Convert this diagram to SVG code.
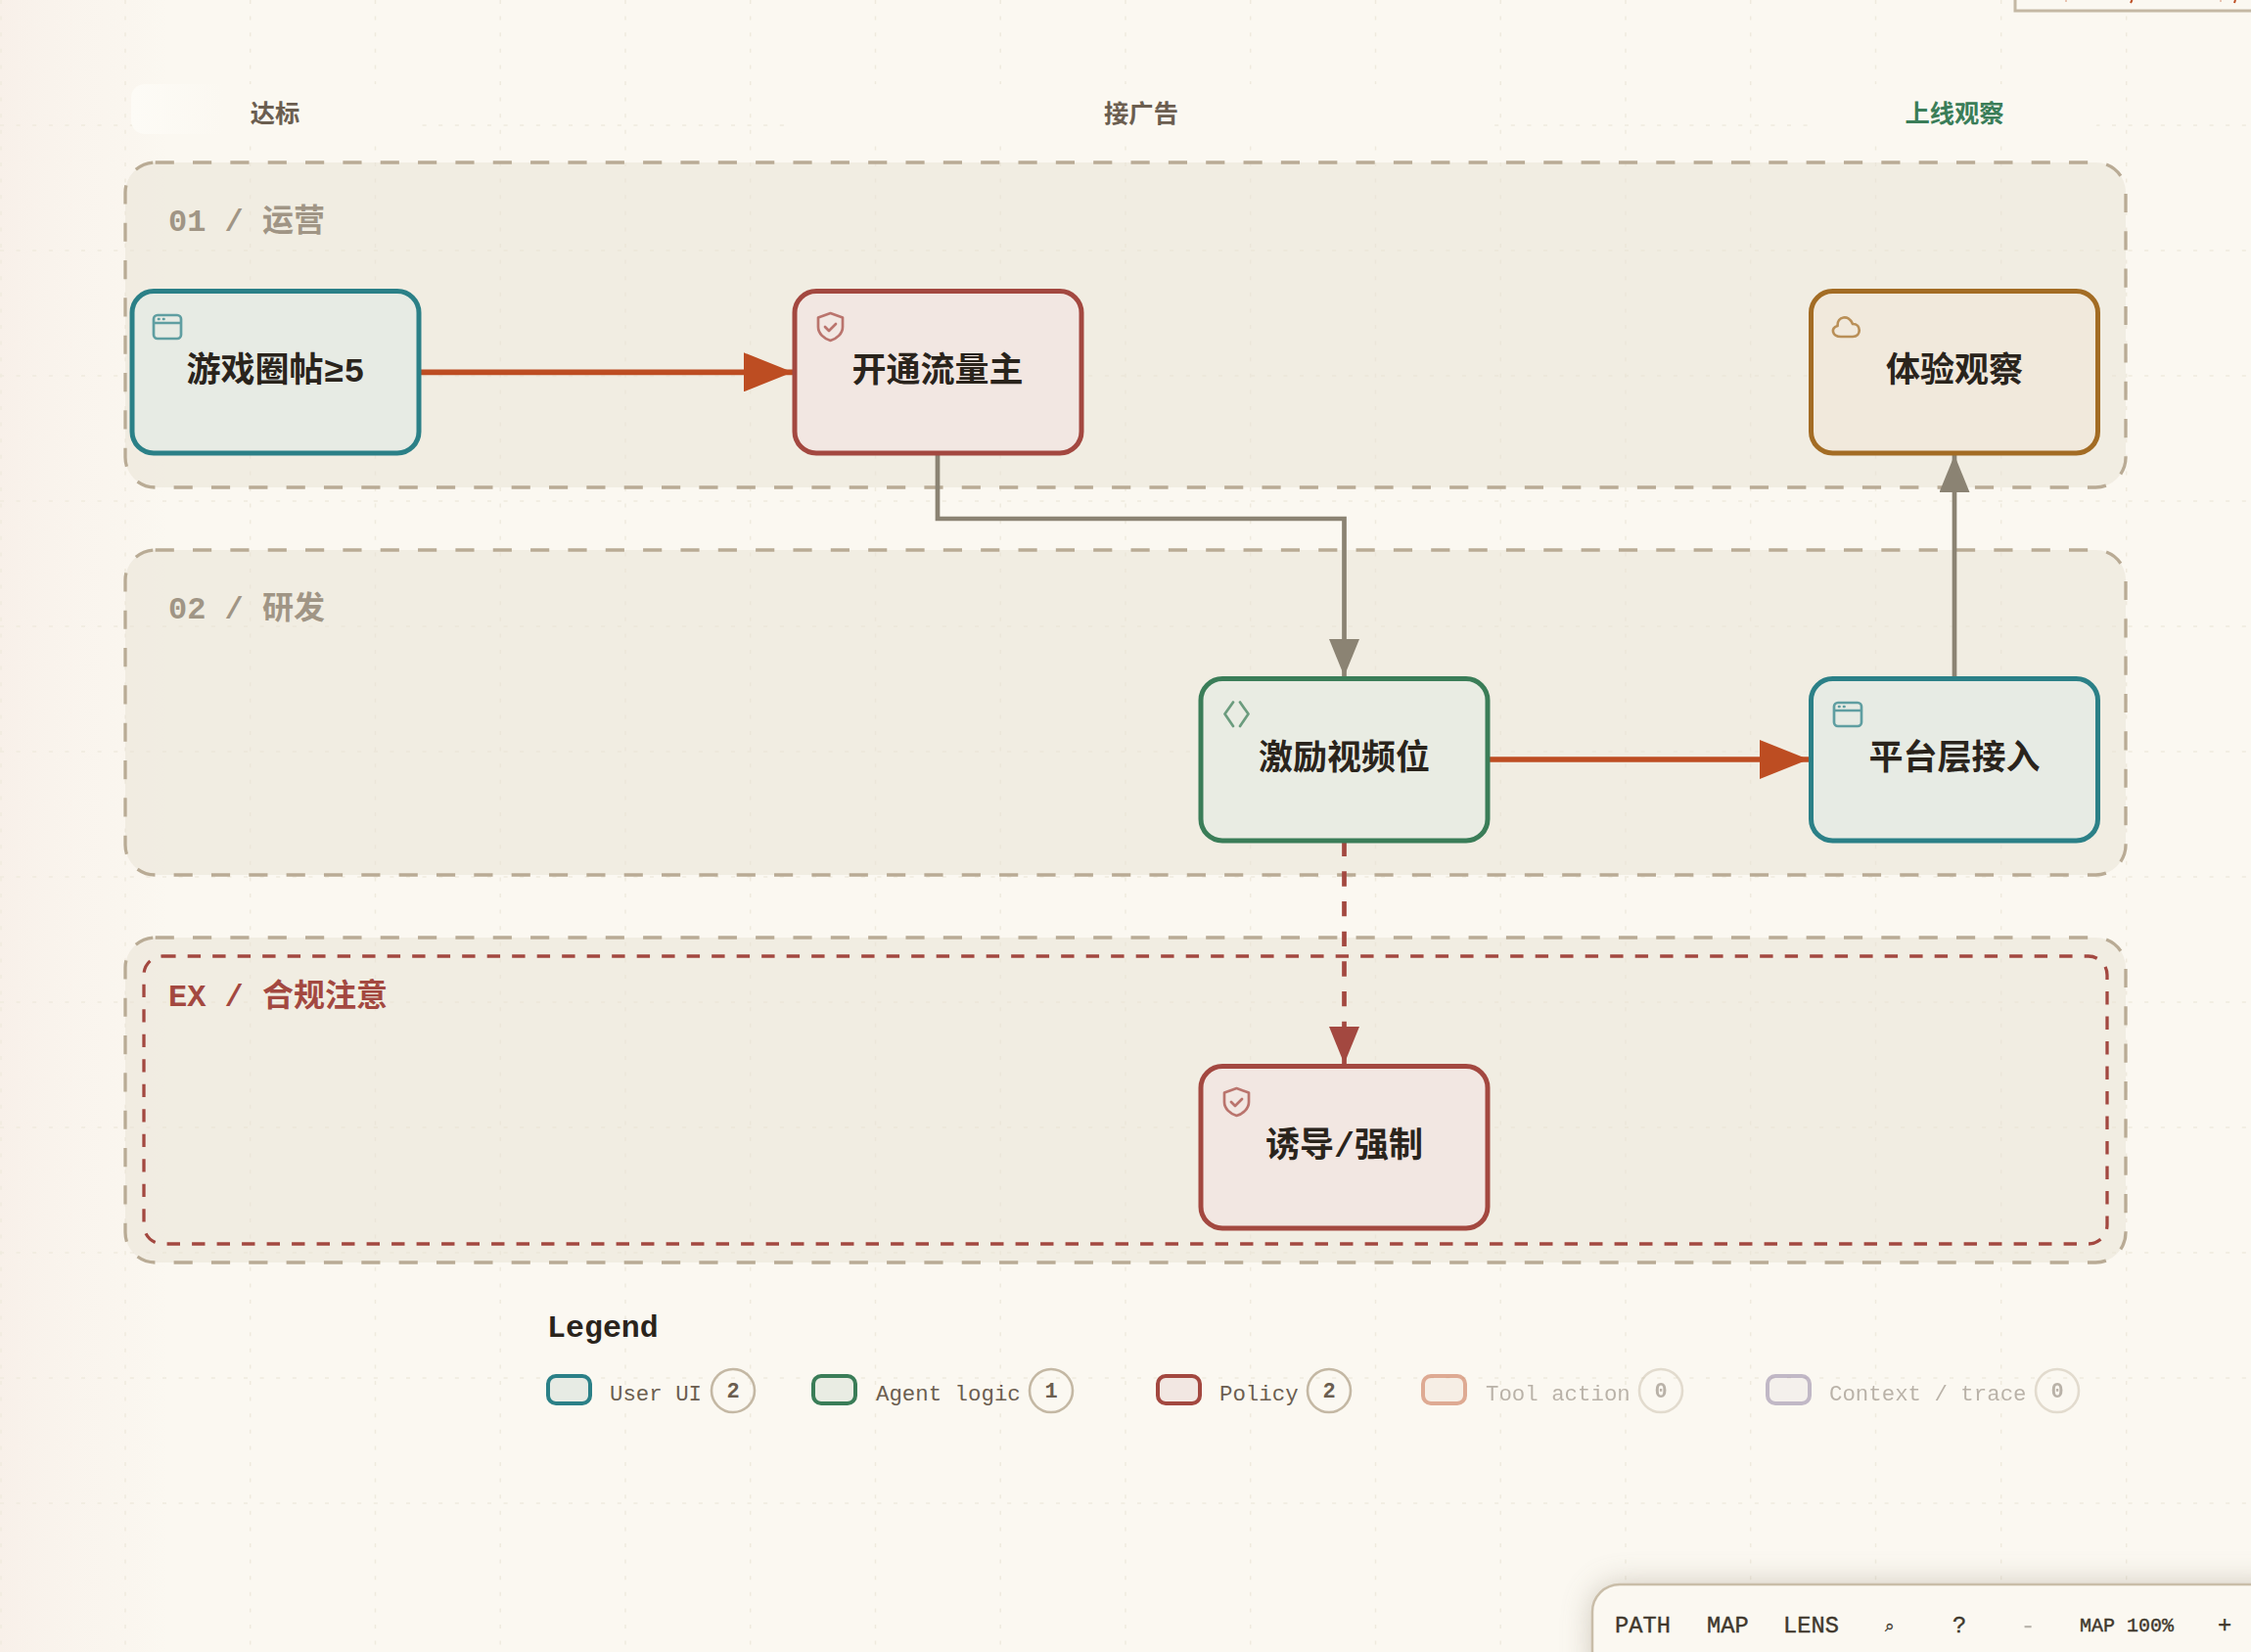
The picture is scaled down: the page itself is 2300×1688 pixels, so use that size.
<svg xmlns="http://www.w3.org/2000/svg" width="2300" height="1688" viewBox="0 0 2300 1688">
<style>
text{font-family:"Liberation Mono","Noto Sans CJK SC",monospace}
.cjk{font-family:"Noto Sans CJK SC",sans-serif}
.zone{fill:#e7e2d4;fill-opacity:.5;stroke:#b9ab95;stroke-width:3.3;stroke-dasharray:19.17 19.17}
.zl{font-size:32px;font-weight:700;fill:#a09585}
.hd{font-size:25.3px;font-weight:700;fill:#6b5e50;text-anchor:middle;font-family:"Noto Sans CJK SC",sans-serif}
.nb{stroke-width:5}
.nt{font-size:35px;font-weight:700;fill:#2a241c;text-anchor:middle;font-family:"Liberation Mono","Noto Sans CJK SC",monospace}
.ic{fill:none;stroke-width:2.7;stroke-linecap:round;stroke-linejoin:round;opacity:.72}
.lt{font-size:22.4px;fill:#6b5e50}
.lc{font-size:22px;font-weight:700;fill:#6b5e50;text-anchor:middle}
.cc{fill:none;stroke:#c4b8a4;stroke-width:2.6}
.sw{stroke-width:4}
.tb{font-size:23.7px;fill:#40382d;font-weight:400;stroke:#40382d;stroke-width:.4}
.teal{fill:#e7ebe4;stroke:#2b8087}.red{fill:#f2e7e2;stroke:#a34840}.green{fill:#e9ece3;stroke:#3a7d58}.amber{fill:#f1e9dc;stroke:#a36c24}
</style>
<defs>
<linearGradient id="bg" x1="0" x2="1" y1="0" y2="0"><stop offset="0" stop-color="#f8f0e9"/><stop offset=".5" stop-color="#f9f3ec" stop-opacity=".7"/><stop offset="1" stop-color="#f8f0e9" stop-opacity="0"/></linearGradient>
<linearGradient id="chip" x1="0" x2="1" y1="0" y2="0"><stop offset="0" stop-color="#fdfbf6"/><stop offset=".32" stop-color="#fbf8f1"/></linearGradient>
<filter id="sh" x="-10%" y="-60%" width="120%" height="220%"><feGaussianBlur stdDeviation="16"/></filter>
<marker id="ao" markerUnits="userSpaceOnUse" viewBox="0 0 50 40" markerWidth="50" markerHeight="40" refX="50" refY="20" orient="auto"><path d="M0 0L50 20L0 40Z" fill="#bd4d22"/></marker>
<marker id="ag" markerUnits="userSpaceOnUse" viewBox="0 0 38 31" markerWidth="38" markerHeight="31" refX="38" refY="15.5" orient="auto"><path d="M0 0L38 15.5L0 31Z" fill="#8b8373"/></marker>
<marker id="ar" markerUnits="userSpaceOnUse" viewBox="0 0 38 31" markerWidth="38" markerHeight="31" refX="38" refY="15.5" orient="auto"><path d="M0 0L38 15.5L0 31Z" fill="#a34840"/></marker>
<path id="win" d="M4 0H24A4 4 0 0 1 28 4V20A4 4 0 0 1 24 24H4A4 4 0 0 1 0 20V4A4 4 0 0 1 4 0ZM0 8H28M5 4H5.5M10 4H10.5"/>
<path id="shield" d="M12.5 0L25 4.5V14C25 21 19 26 12.5 28C6 26 0 21 0 14V4.5ZM7 14L11 18L18 11"/>
</defs>
<rect width="2300" height="1688" fill="#fbf8f1"/>
<rect width="170" height="1688" fill="url(#bg)"/>
<g id="grid" fill="none" stroke="#efeade" stroke-width="1.5" stroke-dasharray="4 12.6">
<path d="M1 0V1688M128 0V1688M255.700 0V1688M383.500 0V1688M511.200 0V1688M639 0V1688M766.700 0V1688M894.500 0V1688M1022.200 0V1688M1150 0V1688M1277.700 0V1688M1405.500 0V1688M1533.200 0V1688M1661 0V1688M1788.700 0V1688M1916.500 0V1688M2044.700 0V1688M2172.700 0V1688"/>
<path d="M0 128H2300M0 256H2300M0 384H2300M0 512H2300M0 640H2300M0 768H2300M0 896H2300M0 1024H2300M0 1152H2300M0 1280H2300M0 1408H2300M0 1536H2300"/>
</g>
<g id="headers">
<rect x="134" y="86" width="295" height="51" rx="14" fill="url(#chip)"/>
<rect x="811" y="86" width="710" height="51" rx="14" fill="#fbf8f1"/>
<rect x="1850" y="86" width="293" height="51" rx="14" fill="#fbf8f1"/>
<text class="hd" x="281" y="125">达标</text>
<text class="hd" x="1166" y="125">接广告</text>
<text class="hd" x="1997" y="125" style="fill:#3a7d58">上线观察</text>
</g>
<g id="zone-1"><rect class="zone" x="128" y="166" width="2044" height="332" rx="30.670"/><text class="zl" x="172" y="236">01 / <tspan class="cjk">运营</tspan></text></g>
<g id="zone-2"><rect class="zone" x="128" y="562" width="2044" height="332" rx="30.670"/><text class="zl" x="172" y="632">02 / <tspan class="cjk">研发</tspan></text></g>
<g id="zone-3"><rect class="zone" x="128" y="958" width="2044" height="332" rx="30.670"/>
<rect x="147" y="977" width="2006" height="294" rx="19.170" fill="none" stroke="#a34840" stroke-width="3.3" stroke-dasharray="13.4 12.1"/>
<text class="zl" x="172" y="1028" style="fill:#a34840">EX / <tspan class="cjk">合规注意</tspan></text></g>
<g id="connectors" fill="none">
<path d="M430 380.300H810" stroke="#bd4d22" stroke-width="5.7" marker-end="url(#ao)"/>
<path d="M958 465V530H1373.500V691" stroke="#8b8373" stroke-width="4.7" marker-end="url(#ag)"/>
<path d="M1522 776H1848" stroke="#bd4d22" stroke-width="5.7" marker-end="url(#ao)"/>
<path d="M1997 691V465" stroke="#8b8373" stroke-width="4.7" marker-end="url(#ag)"/>
<path d="M1373.500 859.700V1087" stroke="#a34840" stroke-width="4.7" stroke-dasharray="15.330 15.330" marker-end="url(#ar)"/>
</g>
<g id="node-1"><rect class="nb teal" x="135" y="297.500" width="293" height="165.500" rx="22"/><use href="#win" x="157" y="322" class="ic" stroke="#2b8087"/><text class="nt" x="281.500" y="390">游戏圈帖≥5</text></g>
<g id="node-2"><rect class="nb red" x="812" y="297.500" width="293" height="165.500" rx="22"/><use href="#shield" x="836" y="320" class="ic" stroke="#a34840"/><text class="nt" x="958" y="390">开通流量主</text></g>
<g id="node-3"><rect class="nb amber" x="1850.500" y="297.500" width="293" height="165.500" rx="22"/><path class="ic" stroke="#a36c24" d="M1881 344H1893C1902 344 1902 331 1893 331C1889 321 1877 323 1877.500 333C1870 335 1872 344 1881 344Z"/><text class="nt" x="1997" y="390">体验观察</text></g>
<g id="node-4"><rect class="nb green" x="1227" y="693.500" width="293" height="165.500" rx="22"/><path class="ic" stroke="#3a7d58" d="M1260 717.500L1251.500 729.500L1260 742M1267 717.500L1275.500 729.500L1267 742"/><text class="nt" x="1373.500" y="786">激励视频位</text></g>
<g id="node-5"><rect class="nb teal" x="1850.500" y="693.500" width="293" height="165.500" rx="22"/><use href="#win" x="1874" y="718" class="ic" stroke="#2b8087"/><text class="nt" x="1997" y="786">平台层接入</text></g>
<g id="node-6"><rect class="nb red" x="1227" y="1089.500" width="293" height="165.500" rx="22"/><use href="#shield" x="1251" y="1112" class="ic" stroke="#a34840"/><text class="nt" x="1373.500" y="1182">诱导/强制</text></g>
<g id="legend">
<text x="559" y="1366" font-size="31.600" font-weight="700" fill="#2a241c">Legend</text>
<g id="lg-ui"><rect class="sw teal" x="560" y="1406" width="43" height="28" rx="8"/><text class="lt" x="623" y="1431">User UI</text><circle class="cc" cx="749" cy="1421" r="22"/><text class="lc" x="749" y="1428">2</text></g>
<g id="lg-agent"><rect class="sw green" x="831" y="1406" width="43" height="28" rx="8"/><text class="lt" x="895" y="1431">Agent logic</text><circle class="cc" cx="1074" cy="1421" r="22"/><text class="lc" x="1074" y="1428">1</text></g>
<g id="lg-policy"><rect class="sw red" x="1183" y="1406" width="43" height="28" rx="8"/><text class="lt" x="1246" y="1431">Policy</text><circle class="cc" cx="1358" cy="1421" r="22"/><text class="lc" x="1358" y="1428">2</text></g>
<g id="lg-tool" opacity=".45"><rect class="sw" fill="#f2e2d8" stroke="#bd4d22" x="1454" y="1406" width="43" height="28" rx="8"/><text class="lt" x="1518" y="1431">Tool action</text><circle class="cc" cx="1697" cy="1421" r="22"/><text class="lc" x="1697" y="1428">0</text></g>
<g id="lg-context" opacity=".45"><rect class="sw" fill="#ece8e6" stroke="#7d6b94" x="1806" y="1406" width="43" height="28" rx="8"/><text class="lt" x="1869" y="1431">Context / trace</text><circle class="cc" cx="2102" cy="1421" r="22"/><text class="lc" x="2102" y="1428">0</text></g>
</g>
<g id="toolbar">
<rect x="1627" y="1619" width="720" height="110" rx="28" fill="#8a7f6a" opacity=".4" filter="url(#sh)"/>
<rect x="1627" y="1619" width="720" height="110" rx="28" fill="#fbf8f1" stroke="#c9bda8" stroke-width="2.500"/>
<text class="tb" x="1650" y="1668">PATH</text>
<text class="tb" x="1744" y="1668">MAP</text>
<text class="tb" x="1822" y="1668">LENS</text>
<text class="tb" x="1931" y="1667" text-anchor="middle" style="font-family:'DejaVu Sans',sans-serif;font-size:17px">⌕</text>
<text class="tb" x="2002" y="1668" text-anchor="middle">?</text>
<text class="tb" x="2072" y="1668" text-anchor="middle" opacity=".35">-</text>
<text class="tb" x="2125" y="1667" style="font-size:20px">MAP 100%</text>
<text class="tb" x="2273" y="1668" text-anchor="middle">+</text>
</g>
<g id="top-box">
<rect x="2059" y="-40" width="300" height="51" fill="#fbf8f1" stroke="#c4b8a4" stroke-width="3"/>
<path d="M2177 3L2178.500 0M2283 3L2284 0" stroke="#bd4d22" stroke-width="2" fill="none"/>
<path d="M2110 1H2112M2268 1H2270" stroke="#bd4d22" stroke-width="2" opacity=".3" fill="none"/>
</g>
</svg>
